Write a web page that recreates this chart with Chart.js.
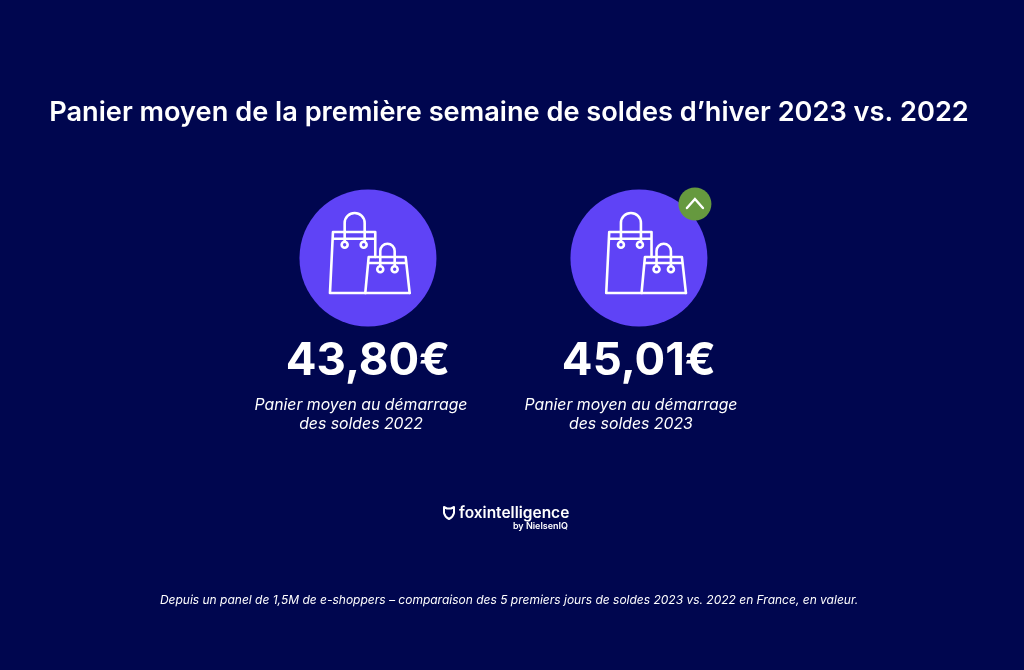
<!DOCTYPE html>
<html lang="fr">
<head>
<meta charset="utf-8">
<title>Panier moyen</title>
<script src="https://cdn.jsdelivr.net/npm/chart.js@4/dist/chart.umd.min.js"></script>
<style>
  html, body { margin: 0; padding: 0; background: #00064f; }
  canvas { display: block; }
</style>
</head>
<body>
<canvas id="chart" width="1024" height="670"></canvas>
<script>
const years = [2022, 2023];
const basketValues = [43.80, 45.01];
const valueLabels = ["43,80€", "45,01€"];
const captionLines = [
  ["Panier moyen au démarrage", "des soldes 2022"],
  ["Panier moyen au démarrage", "des soldes 2023"]
];
const titleText = "Panier moyen de la première semaine de soldes d’hiver 2023 vs. 2022";
const footnoteText = "Depuis un panel de 1,5M de e-shoppers – comparaison des 5 premiers jours de soldes 2023 vs. 2022 en France, en valeur.";
const logoName = "foxintelligence";
const logoSub = "by NielsenIQ";

const BG = "#00064f";
const PURPLE = "#5f43f6";
const GREEN = "#66993f";
const FONT = "Inter";

// grand sac + petit sac, coordonnees relatives au centre du cercle
function drawBags(ctx, cx, cy) {
  ctx.save();
  ctx.translate(cx, cy);
  ctx.strokeStyle = "#ffffff";
  ctx.lineWidth = 2.6;
  ctx.lineJoin = "round";
  ctx.lineCap = "round";

  ctx.beginPath();
  // grand sac
  ctx.moveTo(7.3, -1);
  ctx.lineTo(7.3, -26);
  ctx.lineTo(-35, -26);
  ctx.lineTo(-38, 35);
  ctx.lineTo(41.7, 35);
  ctx.moveTo(-35, -19.3);
  ctx.lineTo(7.3, -19.3);
  // anse
  ctx.moveTo(-23.3, -16);
  ctx.lineTo(-23.3, -35);
  ctx.arc(-13.3, -35, 10, Math.PI, 0);
  ctx.lineTo(-3.3, -16);
  ctx.stroke();

  ctx.beginPath();
  // petit sac
  ctx.moveTo(-2.7, 35);
  ctx.lineTo(0.7, -1);
  ctx.lineTo(37.7, -1);
  ctx.lineTo(41.7, 35);
  ctx.moveTo(0.3, 5);
  ctx.lineTo(38.3, 5);
  // anse
  ctx.moveTo(12.3, 8);
  ctx.lineTo(12.3, -7);
  ctx.arc(19.5, -7, 7.2, Math.PI, 0);
  ctx.lineTo(26.7, 8);
  ctx.stroke();

  [[-23.3, -13.3], [-4.3, -13.3], [12.3, 11.3], [26.7, 11.3]].forEach(([x, y]) => {
    ctx.beginPath();
    ctx.arc(x, y, 3, 0, Math.PI * 2);
    ctx.fillStyle = PURPLE;
    ctx.fill();
    ctx.stroke();
  });
  ctx.restore();
}

function drawBadge(ctx, cx, cy) {
  ctx.beginPath();
  ctx.arc(cx, cy, 16.5, 0, Math.PI * 2);
  ctx.fillStyle = GREEN;
  ctx.fill();
  ctx.beginPath();
  ctx.moveTo(cx - 8, cy + 4);
  ctx.lineTo(cx, cy - 5);
  ctx.lineTo(cx + 8, cy + 4);
  ctx.strokeStyle = "#ffffff";
  ctx.lineWidth = 2.4;
  ctx.lineCap = "round";
  ctx.stroke();
}

function drawLogo(ctx) {
  ctx.save();
  ctx.fillStyle = "#ffffff";
  ctx.strokeStyle = "#ffffff";
  ctx.lineWidth = 2;
  ctx.lineJoin = "round";
  // tete de renard
  ctx.beginPath();
  ctx.moveTo(444, 507);
  ctx.lineTo(447, 508.5);
  ctx.lineTo(451, 508.5);
  ctx.lineTo(454, 507);
  ctx.lineTo(454, 513);
  ctx.quadraticCurveTo(453, 517, 449, 519);
  ctx.quadraticCurveTo(445, 517, 444, 513);
  ctx.closePath();
  ctx.stroke();
  ctx.textBaseline = "alphabetic";
  ctx.textAlign = "left";
  ctx.font = "600 15.5px " + FONT;
  ctx.fillText(logoName, 459, 518);
  ctx.textAlign = "right";
  ctx.font = "600 9px " + FONT;
  ctx.fillText(logoSub, 568, 529);
  ctx.restore();
}

// textes et pictos poses sur les points du graphique
const overlayPlugin = {
  id: "overlay",
  afterDatasetsDraw(chart) {
    const ctx = chart.ctx;
    const points = chart.getDatasetMeta(0).data;
    ctx.save();
    points.forEach((pt, i) => {
      drawBags(ctx, pt.x + (i === 1 ? 5.3 : 0), pt.y);
      ctx.fillStyle = "#ffffff";
      ctx.textAlign = "center";
      ctx.textBaseline = "alphabetic";
      ctx.font = "700 45.5px " + FONT;
      ctx.fillText(valueLabels[i], pt.x, 375);
      ctx.font = "italic 400 15.8px " + FONT;
      captionLines[i].forEach((line, j) => {
        ctx.fillText(line, pt.x - (i === 0 ? 7 : 8), 410 + j * 19);
      });
    });
    const last = points[points.length - 1];
    drawBadge(ctx, last.x + 56, last.y - 54);
    drawLogo(ctx);
    ctx.restore();
  }
};

new Chart(document.getElementById("chart"), {
  type: "scatter",
  data: {
    datasets: [{
      label: "Panier moyen",
      data: years.map((y, i) => ({ x: y, y: 1, value: basketValues[i] })),
      pointRadius: 68.5,
      pointHoverRadius: 68.5,
      pointBackgroundColor: PURPLE,
      pointBorderWidth: 0,
      clip: false
    }]
  },
  options: {
    responsive: false,
    animation: false,
    events: [],
    layout: { autoPadding: false, padding: { right: 6 } },
    scales: {
      x: { type: "linear", display: false, bounds: "data", min: 2020.642, max: 2024.399 },
      y: { display: false, bounds: "data", min: 0, max: 2 }
    },
    plugins: {
      legend: { display: false },
      tooltip: { enabled: false },
      title: {
        display: true,
        text: titleText,
        color: "#ffffff",
        font: { family: FONT, size: 27.2, weight: "600" },
        padding: { top: 97, bottom: 10.4 }
      },
      subtitle: {
        display: true,
        position: "bottom",
        text: footnoteText,
        color: "#ffffff",
        font: { family: FONT, size: 12, style: "italic", weight: "400" },
        padding: { top: 216.8, bottom: 62.8 }
      }
    }
  },
  plugins: [overlayPlugin, {
    id: "bg",
    beforeDraw(chart) {
      chart.ctx.fillStyle = BG;
      chart.ctx.fillRect(0, 0, chart.width, chart.height);
    }
  }]
});
</script>
</body>
</html>
